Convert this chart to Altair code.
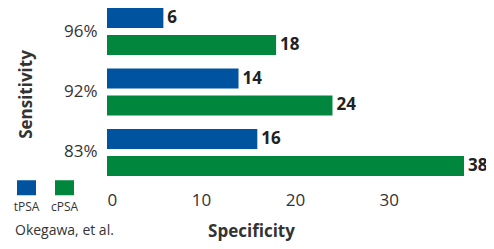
import altair as alt
import pandas as pd

sensitivity = ["96%", "92%", "83%"]
series = ["tPSA", "cPSA"]
tpsa = [6, 14, 16]
cpsa = [18, 24, 38]
x_ticks = [0, 10, 20, 30]
colors = ["#00539F", "#00873D"]
source = "Okegawa, et al."

rows = []
for s, t, c in zip(sensitivity, tpsa, cpsa):
    rows.append({"Sensitivity": s, "Series": "tPSA", "Specificity": t})
    rows.append({"Sensitivity": s, "Series": "cPSA", "Specificity": c})
df = pd.DataFrame(rows)

FONT = "Open Sans"
TXT = "#333333"

base = alt.Chart(df).encode(
    y=alt.Y(
        "Sensitivity:N",
        sort=sensitivity,
        scale=alt.Scale(paddingInner=0.223, paddingOuter=0),
        axis=alt.Axis(
            title="Sensitivity",
            labelFontSize=17,
            labelColor=TXT,
            labelFont=FONT,
            labelPadding=10,
            ticks=False,
            domain=False,
            grid=False,
            titleFont=FONT,
            titleFontSize=17,
            titleFontWeight="bold",
            titleColor=TXT,
            titleAngle=270,
            titleAlign="center",
            titleBaseline="alphabetic",
            titleX=-76,
            titleY=86,
        ),
    ),
    yOffset=alt.YOffset(
        "Series:N", sort=series, scale=alt.Scale(paddingInner=0.259, paddingOuter=0)
    ),
    x=alt.X(
        "Specificity:Q",
        scale=alt.Scale(domain=[0, 38], nice=False),
        axis=alt.Axis(
            title="Specificity",
            values=x_ticks,
            labelFontSize=17,
            labelColor=TXT,
            labelFont=FONT,
            labelPadding=16,
            ticks=False,
            domain=False,
            grid=False,
            titleFont=FONT,
            titleFontSize=17,
            titleFontWeight="bold",
            titleColor=TXT,
            titleAlign="center",
            titleBaseline="alphabetic",
            titleX=144,
            titleY=60,
        ),
    ),
)

bars = base.mark_bar().encode(
    color=alt.Color(
        "Series:N",
        sort=series,
        scale=alt.Scale(domain=series, range=colors),
        legend=alt.Legend(
            title=None,
            orient="none",
            direction="horizontal",
            legendX=-90,
            legendY=170,
            padding=0,
            symbolType="M-1,-0.79L1,-0.79L1,0.79L-1,0.79Z",
            symbolSize=361,
            symbolStrokeWidth=0,
            symbolOpacity=1,
            labelFont=FONT,
            labelFontSize=12,
            labelColor=TXT,
            labelAlign="center",
            labelBaseline="top",
            labelOffset={"expr": "-9.5"},
            labelExpr="['', datum.label]",
            columnPadding=10,
        ),
    )
)

labels = base.mark_text(
    align="left", baseline="middle", dx=4, fontSize=17, fontWeight="bold",
    font=FONT, color="#222222"
).encode(text="Specificity:Q")

chart = (
    alt.layer(bars, labels)
    .properties(
        width=357,
        height=168,
        autosize=alt.AutoSizeParams(type="none"),
        padding={"left": 99, "top": 0, "right": 22, "bottom": 65},
        title=alt.TitleParams(
            text=source,
            orient="bottom",
            anchor="start",
            frame="group",
            font=FONT,
            fontSize=14,
            fontWeight="normal",
            color=TXT,
            dx=-92,
            dy=-19,
        ),
    )
    .configure_view(stroke=None)
)

chart.save("out.html", embed_options={"renderer": "svg", "actions": False})
